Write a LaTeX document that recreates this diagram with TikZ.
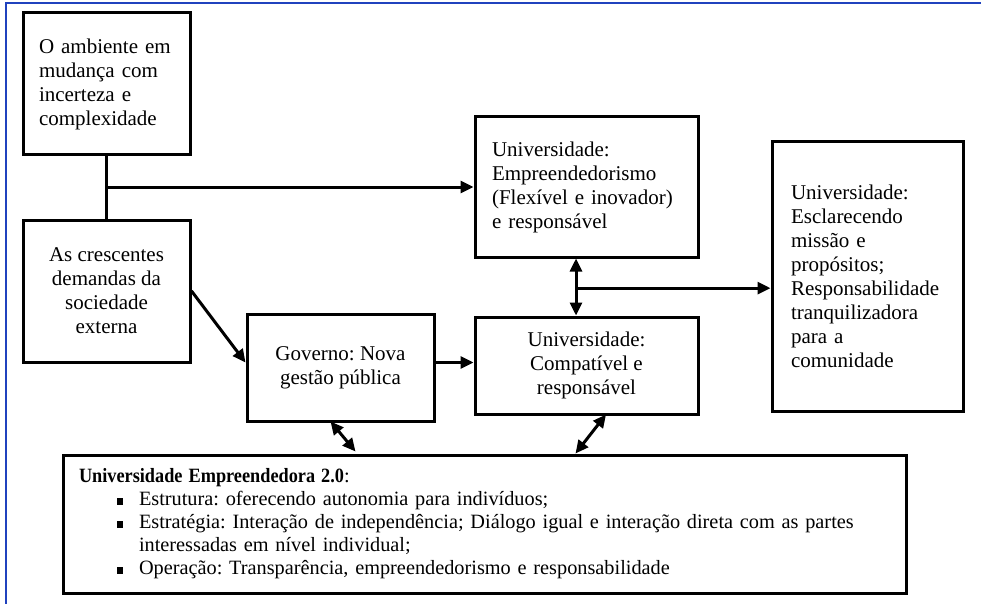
\documentclass[tikz,border=0pt]{standalone}
\usepackage{fontspec}
\usepackage{graphicx}
\setmainfont{Liberation Serif}
\usetikzlibrary{arrows.meta,calc}
\frenchspacing

\definecolor{frameblue}{RGB}{32,66,190}

\tikzset{
  box/.style={draw=black, line width=3pt, fill=white, inner sep=0pt,
    font=\fontsize{21}{24}\selectfont},
  leftbox/.style={box, align=left, text width=#1},
  ctrbox/.style={box, align=center},
  link/.style={line width=3pt},
  arr/.style={link, -{Triangle[length=13pt,width=12pt]}},
  dblarr/.style={link, {Triangle[length=13pt,width=12pt]}-{Triangle[length=13pt,width=12pt]}}
}

\newcommand{\sqbullet}{\hspace*{38pt}\makebox[22pt][l]{\rule[1pt]{5.5pt}{7pt}}}

\begin{document}
\begin{tikzpicture}[x=1pt, y=-1pt]
\useasboundingbox (0,0) rectangle (981,604);

% outer frame (top and left edges)
\draw[frameblue, line width=2.6pt] (6,604) -- (6,3) -- (981,3);

% boxes
\node[leftbox=135pt, minimum width=167pt, minimum height=142pt] (amb) at (106.5,84)
  {O ambiente em\\mudança com\\incerteza e\\complexidade};
\node[ctrbox, minimum width=167pt, minimum height=142pt] (dem) at (106.5,291)
  {As crescentes\\demandas da\\sociedade\\externa};
\node[ctrbox, minimum width=187pt, minimum height=107pt] (gov) at (340.5,367.5)
  {Governo: Nova\\gestão pública};
\node[leftbox=189pt, minimum width=223pt, minimum height=140pt] (emp) at (586.5,187)
  {Universidade:\\Empreendedorismo\\(Flexível e inovador)\\e responsável};
\node[ctrbox, minimum width=223pt, minimum height=97pt] (cmp) at (586.5,365.5)
  {Universidade:\\Compatível e\\responsável};
\node[leftbox=153pt, minimum width=191pt, minimum height=269pt] (mis) at (867.5,276.5)
  {Universidade:\\Esclarecendo\\missão e\\propósitos;\\Responsabilidade\\tranquilizadora\\para a\\comunidade};
\node[box, minimum width=843pt, minimum height=138pt, align=left, text width=811pt,
      font=\fontsize{20.3}{23}\selectfont] (ue) at (484.5,524)
  {\scalebox{0.9}[1]{\bfseries Universidade Empreendedora 2.0}:\\
   \sqbullet Estrutura: oferecendo autonomia para indivíduos;\\
   \sqbullet Estratégia: Interação de independência; Diálogo igual e interação direta com as partes\\
   \hspace*{60pt}interessadas em nível individual;\\
   \sqbullet Operação: Transparência, empreendedorismo e responsabilidade};

% connectors
\draw[link] (amb.south) -- (dem.north);
\coordinate (split) at (amb.south |- emp.west);
\draw[arr] (split) -- (emp.west);

\coordinate (govin) at ($(gov.west)+(0,-5)$);
\draw[arr] (dem.east) -- (govin);
\coordinate (govout) at ($(gov.east)+(0,-5)$);
\draw[arr] (govout) -- (govout -| cmp.west);

\coordinate (empfoot) at ($(emp.south)+(-10.5,0)$);
\coordinate (cmphead) at ($(cmp.north)+(-10.5,0)$);
\draw[dblarr] (empfoot) -- (cmphead);
\coordinate (fork) at ($(empfoot)!0.52!(cmphead)$);
\draw[arr] (fork) -- (fork -| mis.west);

\coordinate (govfoot) at ($(gov.south)+(-10,-1)$);
\coordinate (uegov) at ($(ue.north west)+(294,-2)$);
\draw[dblarr] (govfoot) -- (uegov);
\coordinate (cmpfoot) at ($(cmp.south)+(19.5,-1)$);
\coordinate (uecmp) at ($(ue.north west)+(514,0)$);
\draw[dblarr] (cmpfoot) -- (uecmp);
\end{tikzpicture}
\end{document}
